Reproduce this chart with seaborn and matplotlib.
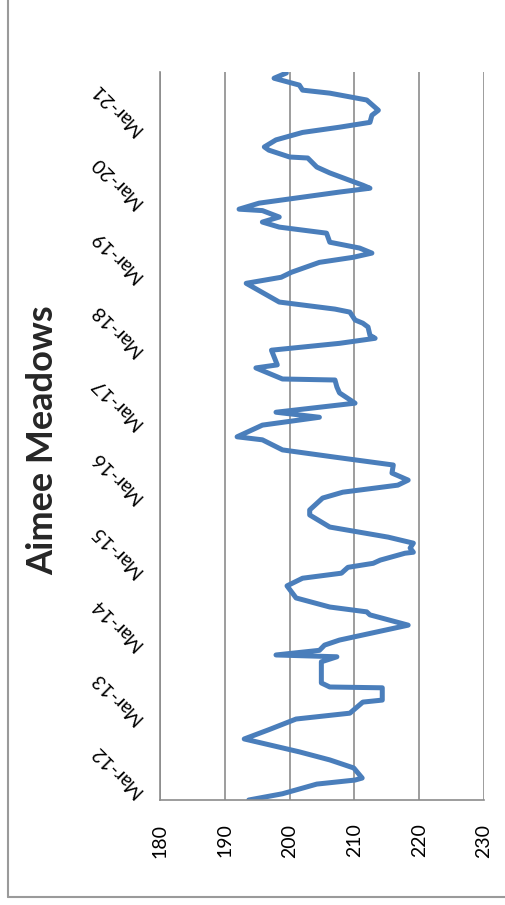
import pandas as pd
import matplotlib
matplotlib.use("Agg")
import matplotlib.pyplot as plt
import matplotlib.dates as mdates
from matplotlib.lines import Line2D
import seaborn as sns

# Series values (date, value)
dates = [
    "2012-03-01", "2012-04-01", "2012-05-19", "2012-06-08", "2012-06-18", "2012-08-07",
    "2012-09-16", "2012-10-26", "2012-12-29", "2013-02-13", "2013-04-07", "2013-05-06",
    "2013-06-30", "2013-07-10", "2013-09-09", "2013-09-13", "2013-10-03", "2014-01-16",
    "2014-02-10", "2014-02-19", "2014-03-14", "2014-04-09", "2014-05-04", "2014-07-17",
    "2014-09-06", "2014-09-21", "2014-10-15", "2014-11-29", "2015-01-28", "2015-03-07",
    "2015-04-01", "2015-04-30", "2015-05-20", "2015-06-05", "2015-07-09", "2015-07-14",
    "2015-08-04", "2015-08-28", "2015-09-27", "2015-11-16", "2016-01-15", "2016-02-09",
    "2016-04-08", "2016-05-07", "2016-06-11", "2016-07-06", "2016-08-10", "2016-09-19",
    "2016-10-28", "2016-12-03", "2017-01-22", "2017-02-06", "2017-04-05", "2017-05-14",
    "2017-06-08", "2017-07-23", "2017-09-12", "2017-10-11", "2017-11-15", "2017-11-20",
    "2018-01-14", "2018-01-29", "2018-04-12", "2018-05-16", "2018-06-10", "2018-06-25",
    "2018-08-05", "2018-08-24", "2018-09-09", "2018-10-18", "2018-11-02", "2018-12-07",
    "2019-03-10", "2019-04-09", "2019-05-04", "2019-06-22", "2019-07-17", "2019-08-07",
    "2019-09-01", "2019-09-30", "2019-11-14", "2019-12-14", "2020-01-08", "2020-02-02",
    "2020-03-05", "2020-03-12", "2020-04-11", "2020-06-05", "2020-06-24", "2020-07-09",
    "2020-09-08", "2020-10-07", "2020-11-21", "2020-11-26", "2020-12-30", "2021-01-15",
    "2021-02-19", "2021-03-28", "2021-04-23", "2021-05-17", "2021-06-21", "2021-07-16",
    "2021-09-05", "2021-10-09", "2021-10-24", "2021-11-18", "2021-12-22", "2022-01-17",
]
values = [
    193.7, 198.9, 204.2, 210.1, 211.2, 209.9,
    206.2, 201.5, 193.0, 196.8, 201.0, 209.3,
    211.3, 214.3, 214.3, 206.2, 204.9, 204.9,
    207.3, 197.9, 204.6, 205.4, 207.7, 218.3,
    212.4, 211.9, 206.2, 201.0, 199.6, 202.0,
    208.0, 209.0, 212.9, 214.0, 217.8, 219.1,
    218.6, 219.1, 215.2, 206.2, 203.1, 203.1,
    205.1, 208.2, 216.7, 218.3, 215.8, 216.0,
    207.0, 198.9, 195.8, 191.9, 195.8, 204.6,
    197.9, 210.1, 207.7, 207.3, 207.0, 198.9,
    194.8, 198.1, 197.2, 207.7, 213.2, 212.4,
    212.1, 211.3, 210.1, 209.3, 207.0, 198.4,
    193.3, 198.7, 200.3, 204.6, 209.8, 212.7,
    210.8, 206.2, 205.7, 198.4, 195.8, 198.4,
    195.8, 192.2, 195.3, 207.7, 212.4, 211.3,
    206.2, 204.2, 202.8, 200.0, 196.8, 196.1,
    197.9, 202.0, 207.7, 212.4, 212.7, 213.7,
    211.9, 206.2, 202.0, 201.5, 197.6, 199.5,
]
title = "Aimee Meadows"
value_ticks = [180, 190, 200, 210, 220, 230]

df = pd.DataFrame({"Date": pd.to_datetime(dates), "Value": values})

sns.set_style("white")
plt.rcParams["font.family"] = ["Lato", "DejaVu Sans"]

fig = plt.figure(figsize=(5.05, 9.05), dpi=100)
ax = fig.add_axes([160 / 505, 1 - 800 / 905, 324 / 505, 728 / 905])

sns.lineplot(data=df, x="Value", y="Date", sort=False, estimator=None,
             orient="y", color="#4A7EBB", linewidth=3.6, ax=ax)

ax.set_xlim(180, 230)
ax.set_ylim(pd.Timestamp("2012-03-01"), pd.Timestamp("2022-01-22"))
ax.set_xticks(value_ticks)
ax.xaxis.grid(True, color="#8C8C8C", linewidth=1.2)
ax.yaxis.grid(False)

ax.yaxis.set_major_locator(mdates.YearLocator(month=3, day=1))
ax.yaxis.set_major_formatter(mdates.DateFormatter("%b-%y"))

for side in ["top", "right"]:
    ax.spines[side].set_visible(False)
for side in ["left", "bottom"]:
    ax.spines[side].set_color("#8C8C8C")
    ax.spines[side].set_linewidth(1.2)

ax.tick_params(axis="both", direction="out", length=6, width=1.2, color="#8C8C8C",
               labelsize=14, labelcolor="black")
ax.tick_params(axis="x", pad=11, labelrotation=90)
ax.tick_params(axis="y", pad=13)
for lab in ax.get_yticklabels():
    lab.set_rotation(135)
    lab.set_rotation_mode("anchor")
    lab.set_ha("left")
    lab.set_va("top")

ax.set_xlabel("")
ax.set_ylabel("")

fig.text(43 / 505, 1 - 440 / 905, title, rotation=90, fontsize=26,
         fontweight="bold", ha="center", va="center")

# chart area border
fig.add_artist(Line2D([8 / 505, 8 / 505], [1, 1 - 897 / 905], color="#9A9A9A", linewidth=1.5))
fig.add_artist(Line2D([8 / 505, 1], [1 - 897 / 905, 1 - 897 / 905], color="#9A9A9A", linewidth=1.5))

fig.savefig("out.png", dpi=100)
